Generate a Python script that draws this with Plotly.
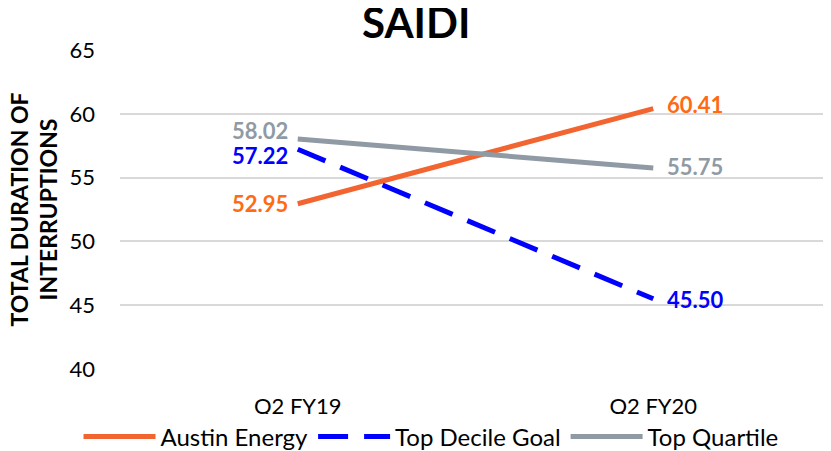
import plotly.graph_objects as go

categories = ["Q2 FY19", "Q2 FY20"]
austin_energy = [52.95, 60.41]
top_decile_goal = [57.22, 45.50]
top_quartile = [58.02, 55.75]
y_ticks = [40, 45, 50, 55, 60, 65]

FONT = "Lato"
series = [
    ("Austin Energy", austin_energy, "#F26430", "#FF6A13", "solid", [0, 4]),
    ("Top Decile Goal", top_decile_goal, "#0000FF", "#0000FF", "30px,16px", [-6, -1]),
    ("Top Quartile", top_quartile, "#8F9AA4", "#8F9AA4", "solid", [9, 2]),
]

fig = go.Figure()
annotations = []
for name, vals, lc, tc, dash, yshifts in series:
    fig.add_trace(go.Scatter(
        x=categories, y=vals, name=name, mode="lines",
        line=dict(color=lc, width=5, dash=dash),
        hoverinfo="skip",
    ))
    for i, (c, v) in enumerate(zip(categories, vals)):
        annotations.append(dict(
            x=c, y=v, xref="x", yref="y", text=f"<b>{v:.2f}</b>",
            showarrow=False, xanchor="right" if i == 0 else "left",
            xshift=-8 if i == 0 else 12, yshift=yshifts[i],
            font=dict(family=FONT, size=22, color=tc),
        ))

annotations.append(dict(
    text="<b>TOTAL DURATION OF<br>INTERRUPTIONS</b>", textangle=-90,
    x=0, y=0.5, xref="paper", yref="paper", xanchor="center", yanchor="middle",
    xshift=-87, showarrow=False,
    font=dict(family=FONT, size=23, color="#000000"),
))

fig.update_layout(
    width=823, height=443,
    margin=dict(l=112, r=0, t=42, b=82),
    paper_bgcolor="white", plot_bgcolor="white",
    font=dict(family=FONT, size=19, color="#000000"),
    title=dict(text="<b>SAIDI</b>", x=0.496, xanchor="center", xref="container",
               y=0.965, yref="container", yanchor="middle",
               font=dict(family=FONT, size=42, color="#000000")),
    annotations=annotations,
    showlegend=True,
    legend=dict(orientation="h", x=0.514, xanchor="center", xref="container",
                y=0.032, yref="container", yanchor="middle",
                font=dict(family=FONT, size=24, color="#000000"),
                itemwidth=72, tracegroupgap=0),
    xaxis=dict(type="category", showgrid=False, zeroline=False, showline=False,
               ticks="", automargin=False, ticklabelstandoff=22,
               tickfont=dict(family=FONT, size=22, color="#000000"),
               range=[-0.5, 1.5]),
    yaxis=dict(range=[40, 65], tickvals=y_ticks, showgrid=True, gridcolor="#D9D9D9",
               gridwidth=1.5, zeroline=False, showline=False, ticks="",
               automargin=False, ticklabelstandoff=24,
               tickfont=dict(family=FONT, size=22, color="#000000")),
)

fig.write_html("out.html")
